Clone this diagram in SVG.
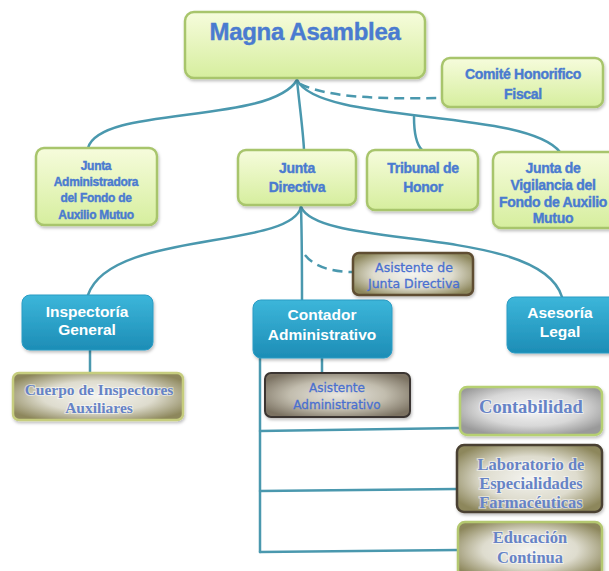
<svg xmlns="http://www.w3.org/2000/svg" width="609" height="571" viewBox="0 0 609 571">
<defs>
<linearGradient id="gGreen" x1="0" y1="0" x2="0" y2="1">
<stop offset="0" stop-color="#f6fcdc"/><stop offset="1" stop-color="#d6ee9e"/>
</linearGradient>
<linearGradient id="gBlue" x1="0" y1="0" x2="0" y2="1">
<stop offset="0" stop-color="#3cb6da"/><stop offset="1" stop-color="#1d8db6"/>
</linearGradient>
<radialGradient id="gKhaki" cx="0.5" cy="0.5" r="0.6">
<stop offset="0" stop-color="#f4f4f0"/><stop offset="0.55" stop-color="#dedcce"/><stop offset="1" stop-color="#8d875c"/>
</radialGradient>
<radialGradient id="gDark" cx="0.5" cy="0.5" r="0.6">
<stop offset="0" stop-color="#e8e6e0"/><stop offset="0.55" stop-color="#c2bdae"/><stop offset="1" stop-color="#7b7262"/>
</radialGradient>
<radialGradient id="gSilver" cx="0.5" cy="0.45" r="0.6">
<stop offset="0" stop-color="#f8f8f8"/><stop offset="0.6" stop-color="#d8d8d8"/><stop offset="1" stop-color="#9a9a9a"/>
</radialGradient>
<filter id="sh" x="-10%" y="-10%" width="125%" height="135%">
<feDropShadow dx="1" dy="2" stdDeviation="1.5" flood-color="#000" flood-opacity="0.25"/>
</filter>
<style>
.green{fill:url(#gGreen);stroke:#a8c56c;stroke-width:2.5;filter:url(#sh)}
.blue{fill:url(#gBlue);stroke:#2a9cc4;stroke-width:1;filter:url(#sh)}
.khaki{fill:url(#gKhaki);stroke-width:2.5;filter:url(#sh)}
.gt{font-family:"Liberation Sans",Arial,sans-serif;font-weight:bold;fill:#4a7bd0;stroke:#4a7bd0;stroke-width:0.4;text-anchor:middle;letter-spacing:-0.3px}
.wt{font-family:"Liberation Sans",Arial,sans-serif;font-weight:bold;fill:#ffffff;text-anchor:middle;font-size:15.5px}
.st{font-family:"Liberation Serif","Times New Roman",serif;font-weight:bold;fill:#6683c6;text-anchor:middle;stroke:#ffffff;stroke-width:2;stroke-opacity:0.5;paint-order:stroke}
.ct{font-family:"DejaVu Sans",sans-serif;fill:#4a70d0;stroke:#4a70d0;stroke-width:0.3;text-anchor:middle}
.conn path{fill:none;stroke:#4a98ae;stroke-width:2.5;stroke-linecap:round}
.conn .dash{stroke-dasharray:10 6;stroke-linecap:butt}
</style>
</defs>
<rect width="609" height="571" fill="#ffffff"/>

<g id="connectors" class="conn">
<path d="M297,80 C270,125 100,105 88,148"/>
<path d="M297,80 C300,110 303,130 304,150"/>
<path d="M297,80 C320,125 525,108 560,152"/>
<path d="M414,117 C414,135 417,145 422,150"/>
<path class="dash" d="M300,84 C330,98 380,99 442,98"/>
<path d="M301,207 C290,250 110,230 88,295"/>
<path d="M301,207 C302,240 302,270 302,300"/>
<path d="M301,207 C320,250 540,225 562,297"/>
<path class="dash" d="M305,255 C315,268 335,272 353,272"/>
<path d="M90,350 L90,373"/>
<path d="M322,358 L322,373"/>
<path d="M260,358 L260,552"/>
<path d="M260,431 L460,428"/>
<path d="M260,491 L457,489"/>
<path d="M260,552 L458,550"/>
</g>

<g id="magna">
<rect class="green" x="185" y="12" width="240" height="66" rx="9"/>
<text class="gt" x="305" y="40" font-size="24" letter-spacing="0" stroke-width="0.8">Magna Asamblea</text>
</g>
<g id="comite">
<rect class="green" x="442" y="58" width="161" height="49" rx="8"/>
<text class="gt" x="523" y="79" font-size="14">Comité Honorifico</text>
<text class="gt" x="523" y="99" font-size="14">Fiscal</text>
</g>
<g id="junta-admin">
<rect class="green" x="36" y="148" width="121" height="77" rx="8"/>
<text class="gt" x="96" y="170" font-size="12">Junta</text>
<text class="gt" x="96" y="186" font-size="12">Administradora</text>
<text class="gt" x="96" y="202" font-size="12">del Fondo de</text>
<text class="gt" x="96" y="219" font-size="12">Auxilio Mutuo</text>
</g>
<g id="junta-directiva">
<rect class="green" x="238" y="150" width="118" height="55" rx="8"/>
<text class="gt" x="297" y="173" font-size="14">Junta</text>
<text class="gt" x="297" y="192" font-size="14">Directiva</text>
</g>
<g id="tribunal">
<rect class="green" x="367" y="150" width="111" height="60" rx="8"/>
<text class="gt" x="423" y="173" font-size="14">Tribunal de</text>
<text class="gt" x="423" y="192" font-size="14">Honor</text>
</g>
<g id="junta-vigilancia">
<rect class="green" x="493" y="152" width="125" height="76" rx="8"/>
<text class="gt" x="553" y="173" font-size="14">Junta de</text>
<text class="gt" x="553" y="190" font-size="14">Vigilancia del</text>
<text class="gt" x="553" y="207" font-size="14">Fondo de Auxilio</text>
<text class="gt" x="553" y="223" font-size="14">Mutuo</text>
</g>

<g id="inspectoria">
<rect class="blue" x="22" y="295" width="131" height="55" rx="8"/>
<text class="wt" x="87" y="317">Inspectoría</text>
<text class="wt" x="87" y="335">General</text>
</g>
<g id="contador">
<rect class="blue" x="253" y="300" width="139" height="58" rx="8"/>
<text class="wt" x="322" y="320">Contador</text>
<text class="wt" x="322" y="340">Administrativo</text>
</g>
<g id="asesoria">
<rect class="blue" x="507" y="297" width="110" height="56" rx="8"/>
<text class="wt" x="560" y="318">Asesoría</text>
<text class="wt" x="560" y="337">Legal</text>
</g>

<g id="asistente-jd">
<rect class="khaki" x="353" y="253" width="120" height="42" rx="6" stroke="#5e4d30"/>
<text class="ct" x="414" y="272" font-size="12.5">Asistente de</text>
<text class="ct" x="414" y="288" font-size="12.5">Junta Directiva</text>
</g>
<g id="cuerpo">
<rect class="khaki" x="13" y="373" width="170" height="47" rx="6" stroke="#c6cd7e"/>
<text class="st" x="99" y="395" font-size="15.5">Cuerpo de Inspectores</text>
<text class="st" x="99" y="413" font-size="15.5">Auxiliares</text>
</g>
<g id="asistente-adm">
<rect x="265" y="373" width="145" height="44" rx="6" fill="url(#gDark)" stroke="#3a3530" stroke-width="2" filter="url(#sh)"/>
<text class="ct" x="337" y="392" font-size="12">Asistente</text>
<text class="ct" x="337" y="409" font-size="12">Administrativo</text>
</g>
<g id="contabilidad">
<rect x="460" y="387" width="142" height="48" rx="7" fill="url(#gSilver)" stroke="#b6d072" stroke-width="2.5" filter="url(#sh)"/>
<text class="st" x="531" y="413" font-size="18.5">Contabilidad</text>
</g>
<g id="laboratorio">
<rect class="khaki" x="457" y="445" width="145" height="67" rx="7" stroke="#4a4030"/>
<text class="st" x="531" y="470" font-size="16.5">Laboratorio de</text>
<text class="st" x="531" y="489" font-size="16.5">Especialidades</text>
<text class="st" x="531" y="508" font-size="16.5">Farmacéuticas</text>
</g>
<g id="educacion">
<rect class="khaki" x="458" y="522" width="144" height="56" rx="7" stroke="#b4c870"/>
<text class="st" x="530" y="543" font-size="16.5">Educación</text>
<text class="st" x="530" y="563" font-size="16.5">Continua</text>
</g>
</svg>
